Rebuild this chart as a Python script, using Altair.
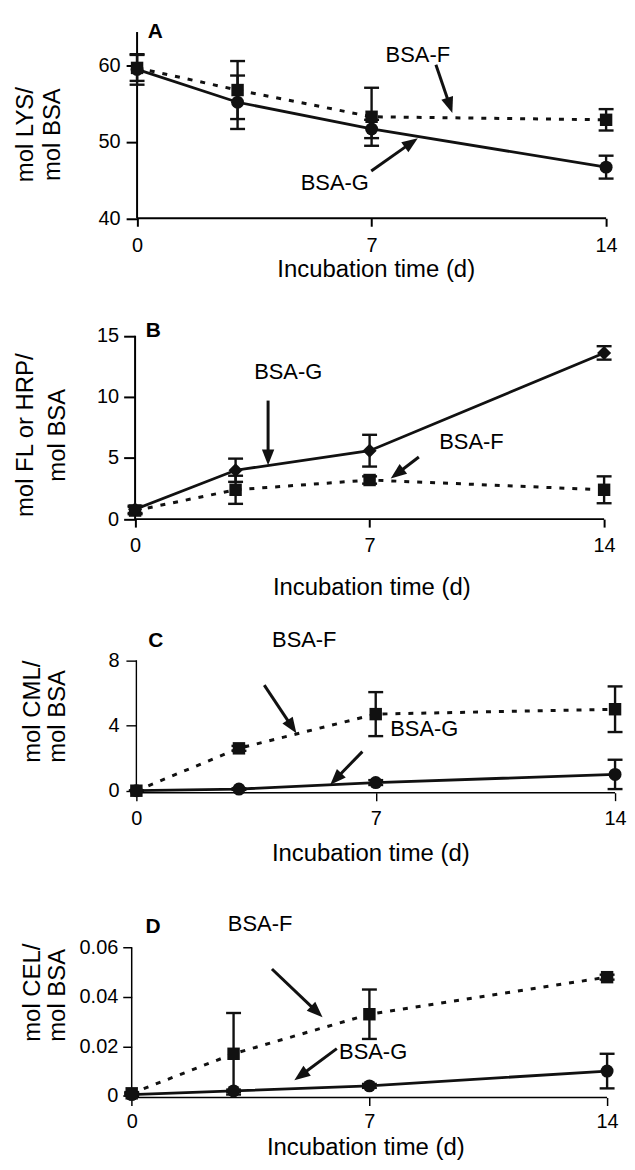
import math
import altair as alt
import pandas as pd

# ---------------- data ----------------
days = [0, 3, 7, 14]

# Panel A: mol LYS / mol BSA
a_f_mean = [59.7, 56.8, 53.3, 52.9]
a_f_err = [1.7, 3.8, 3.8, 1.4]
a_g_mean = [59.5, 55.2, 51.7, 46.7]
a_g_err = [2.0, 3.5, 1.2, 1.5]

# Panel B: mol FL or HRP / mol BSA
b_f_mean = [0.7, 2.4, 3.2, 2.4]
b_f_err = [0.3, 1.15, 0.3, 1.1]
b_g_mean = [0.8, 4.0, 5.6, 13.6]
b_g_err = [0.3, 0.95, 1.3, 0.55]

# Panel C: mol CML / mol BSA
c_f_mean = [0.0, 2.6, 4.7, 5.0]
c_f_err = [0.0, 0.15, 1.35, 1.4]
c_g_mean = [0.0, 0.1, 0.5, 1.0]
c_g_err = [0.0, 0.05, 0.15, 0.9]

# Panel D: mol CEL / mol BSA
d_f_mean = [0.001, 0.017, 0.033, 0.048]
d_f_err = [0.0005, 0.0165, 0.010, 0.001]
d_g_mean = [0.0005, 0.002, 0.004, 0.010]
d_g_err = [0.0005, 0.0005, 0.0008, 0.007]

panel_letters = ["A", "B", "C", "D"]
y_titles = [["mol LYS/", "mol BSA"], ["mol FL or HRP/", "mol BSA"],
            ["mol CML/", "mol BSA"], ["mol CEL/", "mol BSA"]]
x_title = "Incubation time (d)"
x_ticks = [0, 7, 14]
y_ticks = [[40, 50, 60], [0, 5, 10, 15], [0, 4, 8], [0, 0.02, 0.04, 0.06]]
y_axis_top = [64.4, 15, 8, 0.06]

ann_labels = ["BSA-F", "BSA-G"]
a_ann_xy = [(8.38, 61.4), (5.90, 44.65)]
a_arrows = [(8.92, 60.1, 9.41, 53.8), (6.99, 46.2, 8.38, 50.5)]
b_ann_xy = [(10.04, 6.3), (4.57, 12.0)]
b_arrows = [(8.47, 5.08, 7.63, 3.32), (3.97, 9.7, 3.97, 4.4)]
c_ann_xy = [(4.91, 9.23), (8.42, 3.77)]
c_arrows = [(3.74, 6.48, 4.68, 3.52), (6.61, 2.40, 5.67, 0.37)]
d_ann_xy = [(3.78, 0.0694), (7.11, 0.0177)]
d_arrows = [(4.13, 0.0513, 5.62, 0.0318), (6.04, 0.0191, 4.79, 0.0063)]
letter_xy = [(0.54, 63.66), (0.54, 14.93), (0.57, 8.81), (0.63, 0.066)]

# ---------------- layout (pixels) ----------------
PAGE_LEFT = 8
# x0_px, x14_px, rect_top, rect_bottom(axis), ymin at bottom, px per y-unit
layouts = [
    (137.7, 609.0, 8.0, 216.5, 40.0, 7.67),
    (135.7, 607.0, 216.5, 518.3, 0.0, 12.28),
    (137.0, 618.0, 518.3, 793.0, -0.122, 16.375),
    (132.3, 610.0, 793.0, 1099.0, -0.0007, 2483.3),
]
styles = [
    dict(axw=2.0, ytick=11, ylpad=6, xlpad=9, yt_base=(33.3, 60.0), yt_y=132.5,
         yt_align="center", xtx=377.5, xty=275.0),
    dict(axw=2.0, ytick=11.5, ylpad=5, xlpad=9, yt_base=(33.3, 65.0), yt_y=434.0,
         yt_align="center", xtx=373.0, xty=594.0),
    dict(axw=1.4, ytick=10.5, ylpad=7, xlpad=8, yt_base=(40.5, 65.0), yt_y=763.0,
         yt_align="left", xtx=372.0, xty=861.0),
    dict(axw=1.5, ytick=9, ylpad=5, xlpad=6, yt_base=(40.6, 65.0), yt_y=1043.0,
         yt_align="left", xtx=367.0, xty=1156.5),
]
g_shapes = ["circle", "diamond", "circle", "circle"]
FONT = "Liberation Sans"
HEAD_R = 10.0
HEAD_PATH = "M0,-1L0.62,0.6L-0.62,0.6Z"
LABEL_EXPR = "datum.value == 0 ? '0' : format(datum.value, '.2~f')"


def build_panel(i, f_mean, f_err, g_mean, g_err, ann_xy, arrows):
    x0, x14, top, bottom, ymin, ppu = layouts[i]
    st = styles[i]
    ppd = (x14 - x0) / 14.0
    xmin = -(x0 - PAGE_LEFT) / ppd
    width = x14 - PAGE_LEFT
    height = bottom - top
    ymax = ymin + height / ppu

    def px_to_x(px):
        return (px - x0) / ppd

    def py_to_y(py):
        return ymin + (bottom - py) / ppu

    xs = alt.Scale(domain=[xmin, 14], nice=False, zero=False)
    ys = alt.Scale(domain=[ymin, ymax], nice=False, zero=False)
    xaxis = alt.Axis(values=x_ticks, title=x_title, domain=False, grid=False,
                     tickSize=8, tickWidth=st["axw"], tickColor="black",
                     labelFont=FONT, labelFontSize=20, labelColor="black",
                     labelPadding=st["xlpad"], labelFlush=False, labelExpr=LABEL_EXPR,
                     titleFont=FONT, titleFontSize=24, titleFontWeight="normal",
                     titleColor="black", titleX=st["xtx"] - PAGE_LEFT,
                     titleY=st["xty"] - bottom, titleAlign="center",
                     titleBaseline="alphabetic")
    yaxis = alt.Axis(values=y_ticks[i], title=None, domain=False, grid=False,
                     offset=-(x0 - PAGE_LEFT),
                     tickSize=st["ytick"], tickWidth=st["axw"], tickColor="black",
                     labelFont=FONT, labelFontSize=20, labelColor="black",
                     labelPadding=st["ylpad"], labelExpr=LABEL_EXPR)

    def X(f="x"):
        return alt.X(f"{f}:Q", scale=xs, axis=xaxis)

    def Y(f="y"):
        return alt.Y(f"{f}:Q", scale=ys, axis=yaxis)

    # series
    rows = []
    for d, m, e in zip(days, f_mean, f_err):
        rows.append(dict(x=d, y=m, lo=m - e, hi=m + e, s="F"))
    for d, m, e in zip(days, g_mean, g_err):
        rows.append(dict(x=d, y=m, lo=m - e, hi=m + e, s="G"))
    sdf = pd.DataFrame(rows)
    fdf = sdf[sdf.s == "F"]
    gdf = sdf[sdf.s == "G"]
    caps = pd.concat([sdf[["x", "lo"]].rename(columns={"lo": "y"}),
                      sdf[["x", "hi"]].rename(columns={"hi": "y"})])

    # axis lines
    yline = pd.DataFrame([dict(x=0, y=ymin, y2=y_axis_top[i])])
    xline = pd.DataFrame([dict(x=0, x2=14, y=ymin)])

    # y-axis title (two rotated lines)
    ytdf = pd.DataFrame([dict(x=px_to_x(bx), y=py_to_y(st["yt_y"]), t=line)
                         for bx, line in zip(st["yt_base"], y_titles[i])])

    # arrows
    shafts, heads = [], []
    for (x1, y1, x2, y2) in arrows:
        dx = (x2 - x1) * ppd
        dy = -(y2 - y1) * ppu
        L = math.hypot(dx, dy)
        ux, uy = dx / L, dy / L
        ang = math.degrees(math.atan2(ux, -uy)) % 360
        cx = x2 - HEAD_R * ux / ppd
        cy = y2 + HEAD_R * uy / ppu
        shafts.append(dict(x=x1, y=y1, x2=cx, y2=cy))
        heads.append(dict(x=cx, y=cy, angle=ang))
    shdf = pd.DataFrame(shafts)
    hddf = pd.DataFrame(heads)
    tdf = pd.DataFrame([dict(x=p[0], y=p[1], t=lab) for p, lab in zip(ann_xy, ann_labels)])
    ldf = pd.DataFrame([dict(x=letter_xy[i][0], y=letter_xy[i][1], t=panel_letters[i])])

    layers = [
        alt.Chart(yline).mark_rule(color="black", strokeWidth=st["axw"]).encode(
            x=X(), y=Y(), y2="y2:Q"),
        alt.Chart(xline).mark_rule(color="black", strokeWidth=st["axw"]).encode(
            x=X(), x2="x2:Q", y=Y()),
        alt.Chart(fdf).mark_line(color="#111", strokeWidth=3, strokeDash=[5, 8]).encode(
            x=X(), y=Y()),
        alt.Chart(gdf).mark_line(color="#111", strokeWidth=2.8).encode(x=X(), y=Y()),
        alt.Chart(sdf).mark_rule(color="#111", strokeWidth=2.4).encode(
            x=X(), y=Y("lo"), y2="hi:Q"),
        alt.Chart(caps).mark_tick(color="#111", orient="horizontal", size=15,
                                  thickness=2.4, opacity=1).encode(x=X(), y=Y()),
        alt.Chart(fdf).mark_point(shape="square", filled=True, size=156, color="#111",
                                  opacity=1).encode(x=X(), y=Y()),
        alt.Chart(gdf).mark_point(shape=g_shapes[i], filled=True,
                                  size=200 if g_shapes[i] == "diamond" else 169,
                                  color="#111", opacity=1).encode(x=X(), y=Y()),
        alt.Chart(shdf).mark_rule(color="#111", strokeWidth=3).encode(
            x=X(), y=Y(), x2="x2:Q", y2="y2:Q"),
        alt.Chart(hddf).mark_point(shape=HEAD_PATH, filled=True, size=HEAD_R * HEAD_R * 4,
                                   color="#111", opacity=1).encode(
            x=X(), y=Y(), angle=alt.Angle("angle:Q", scale=None)),
        alt.Chart(tdf).mark_text(font=FONT, fontSize=22, color="black", align="center",
                                 baseline="middle").encode(x=X(), y=Y(), text="t:N"),
        alt.Chart(ldf).mark_text(font=FONT, fontSize=21, fontWeight="bold", color="black",
                                 align="center", baseline="alphabetic").encode(
            x=X(), y=Y(), text="t:N"),
        alt.Chart(ytdf).mark_text(font=FONT, fontSize=24, color="black", angle=270,
                                  align=st["yt_align"], baseline="alphabetic").encode(
            x=X(), y=Y(), text="t:N"),
    ]
    return alt.layer(*layers).properties(width=width, height=height)


panels = [
    build_panel(0, a_f_mean, a_f_err, a_g_mean, a_g_err, a_ann_xy, a_arrows),
    build_panel(1, b_f_mean, b_f_err, b_g_mean, b_g_err, b_ann_xy, b_arrows),
    build_panel(2, c_f_mean, c_f_err, c_g_mean, c_g_err, c_ann_xy, c_arrows),
    build_panel(3, d_f_mean, d_f_err, d_g_mean, d_g_err, d_ann_xy, d_arrows),
]

chart = alt.VConcatChart(vconcat=panels, spacing=0, bounds="flush").properties(
    padding={"left": 0, "top": 0, "right": 0, "bottom": 0}
).configure(font=FONT, background="white").configure_view(strokeWidth=0, stroke="transparent")

chart.save("out.html", embed_options={"renderer": "svg", "actions": False})
